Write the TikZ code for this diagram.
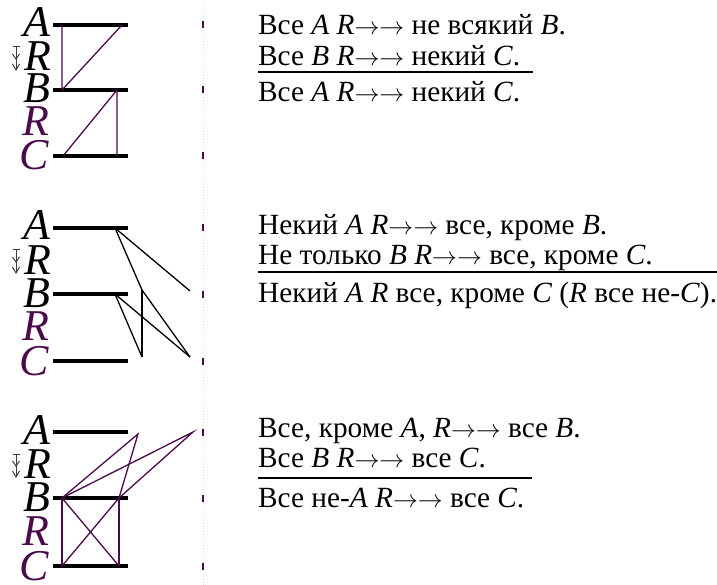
\documentclass[tikz,border=0pt]{standalone}
\usepackage{fontspec}
\setmainfont{Liberation Serif}
\definecolor{pur}{RGB}{75,10,75}
\definecolor{arrg}{RGB}{60,60,60}
\newcommand{\rr}{$\rightarrow\rightarrow$}
\tikzset{
  bar/.style={line width=4.5pt, black},
  tickmark/.style={line width=2pt, pur},
  pconn/.style={line width=1.3pt, pur},
  kconn/.style={line width=1.3pt, black},
  letter/.style={font=\fontsize{44}{44}\selectfont\itshape, anchor=base, inner sep=0pt},
  txt/.style={font=\fontsize{29.3}{31}\selectfont, anchor=base west, inner sep=0pt},
  fracrule/.style={line width=1.6pt, black},
  guide/.style={gray!25, dotted, line width=0.8pt},
  updown/.style={line width=1pt, arrg}
}
% #1 prefix, #2 y of A bar, #3 y of B bar, #4 y of C bar
\newcommand{\mypanel}[4]{%
  \coordinate (#1a1) at (53,#2); \coordinate (#1a2) at (128,#2);
  \coordinate (#1b1) at (53,#3); \coordinate (#1b2) at (128,#3);
  \coordinate (#1c1) at (53,#4); \coordinate (#1c2) at (128,#4);
  \draw[bar] (#1a1) -- (#1a2);
  \draw[bar] (#1b1) -- (#1b2);
  \draw[bar] (#1c1) -- (#1c2);
  \node[letter] (#1LA) at (37,#2+12) {A};
  \node[letter] (#1LR) at (38,{(#2+#3)/2+13}) {R};
  \node[letter] (#1LB) at (37,#3+13) {B};
  \node[letter, text=pur] (#1LR2) at (36,{(#3+#4)/2+13}) {R};
  \node[letter, text=pur] (#1LC) at (34,#4+14) {C};
  \coordinate (#1ta1) at (203,#2-3.5); \coordinate (#1ta2) at (203,#2+3.5);
  \coordinate (#1tb1) at (203,#3-3.5); \coordinate (#1tb2) at (203,#3+3.5);
  \coordinate (#1tc1) at (203,#4-3.5); \coordinate (#1tc2) at (203,#4+3.5);
  \draw[tickmark] (#1ta1) -- (#1ta2);
  \draw[tickmark] (#1tb1) -- (#1tb2);
  \draw[tickmark] (#1tc1) -- (#1tc2);
  \coordinate (#1s0) at (16,#2+22); \coordinate (#1s1) at (16,#2+45);
  \coordinate (#1h1) at (12.5,#2+22); \coordinate (#1h2) at (19.5,#2+22);
  \coordinate (#1m1) at (12.5,#2+29); \coordinate (#1m0) at (16,#2+34); \coordinate (#1m2) at (19.5,#2+29);
  \coordinate (#1n1) at (12.5,#2+39); \coordinate (#1n0) at (16,#2+45); \coordinate (#1n2) at (19.5,#2+39);
  \draw[updown] (#1s0) -- (#1s1);
  \draw[updown] (#1h1) -- (#1h2);
  \draw[updown] (#1m1) -- (#1m0) -- (#1m2);
  \draw[updown] (#1n1) -- (#1n0) -- (#1n2);
}
\begin{document}
\begin{tikzpicture}[x=1pt,y=-1pt]
\useasboundingbox (0,0) rectangle (717,585);
\fill[white] (0,0) rectangle (717,585);
\coordinate (g1) at (203,2); \coordinate (g2) at (203,585);
\draw[guide] (g1) -- (g2);

% ---------- panel 1 ----------
\mypanel{p}{25}{90}{156}
\coordinate (pA) at (62,25); \coordinate (pB) at (62,90); \coordinate (pAr) at (122,25);
\coordinate (pC) at (63,156); \coordinate (pBr) at (117,90); \coordinate (pCr) at (117,156);
\draw[pconn] (pA) -- (pB) -- (pAr);
\draw[pconn] (pC) -- (pBr) -- (pCr);
\node[txt] (t11) at (258,35) {Все \textit{A R}\rr{} не всякий \textit{B}.};
\node[txt] (t12) at (258,66) {Все \textit{B R}\rr{} некий \textit{C}.};
\coordinate (r11) at (258,72); \coordinate (r12) at (533,72);
\draw[fracrule] (r11) -- (r12);
\node[txt] (t13) at (258,102) {Все \textit{A R}\rr{} некий \textit{C}.};

% ---------- panel 2 ----------
\mypanel{q}{228}{294}{361}
\coordinate (qA) at (115,228); \coordinate (qP1) at (190,291);
\coordinate (qQ) at (142,290); \coordinate (qP2) at (190,357);
\coordinate (qQ2) at (142,357); \coordinate (qB) at (115,294);
\draw[kconn] (qA) -- (qP1);
\draw[kconn] (qA) -- (qQ) -- (qP2);
\draw[kconn] (qQ) -- (qQ2);
\draw[kconn] (qB) -- (qQ2);
\draw[kconn] (qB) -- (qP2);
\node[txt] (t21) at (258,235) {Некий \textit{A R}\rr{} все, кроме \textit{B}.};
\node[txt] (t22) at (258,265) {Не только \textit{B R}\rr{} все, кроме \textit{C}.};
\coordinate (r21) at (258,272); \coordinate (r22) at (717,272);
\draw[fracrule] (r21) -- (r22);
\node[txt] (t23) at (258,302) {Некий \textit{A R} все, кроме \textit{C} (\textit{R} все не-\textit{C}).};

% ---------- panel 3 ----------
\mypanel{s}{432}{498}{566}
\coordinate (sX1) at (138,434); \coordinate (sX2) at (193,432);
\coordinate (sBL) at (62,498); \coordinate (sBR) at (119,498);
\coordinate (sCL) at (62,566); \coordinate (sCR) at (119,566);
\draw[pconn] (sBL) -- (sX1) -- (sBR);
\draw[pconn] (sBL) -- (sX2) -- (sBR);
\draw[pconn] (sBL) -- (sCL);
\draw[pconn] (sBR) -- (sCR);
\draw[pconn] (sBL) -- (sCR);
\draw[pconn] (sBR) -- (sCL);
\node[txt] (t31) at (258,437) {Все, кроме \textit{A}, \textit{R}\rr{} все \textit{B}.};
\node[txt] (t32) at (258,467) {Все \textit{B R}\rr{} все \textit{C}.};
\coordinate (r31) at (258,478); \coordinate (r32) at (532,478);
\draw[fracrule] (r31) -- (r32);
\node[txt] (t33) at (258,507) {Все не-\textit{A R}\rr{} все \textit{C}.};
\end{tikzpicture}
\end{document}
